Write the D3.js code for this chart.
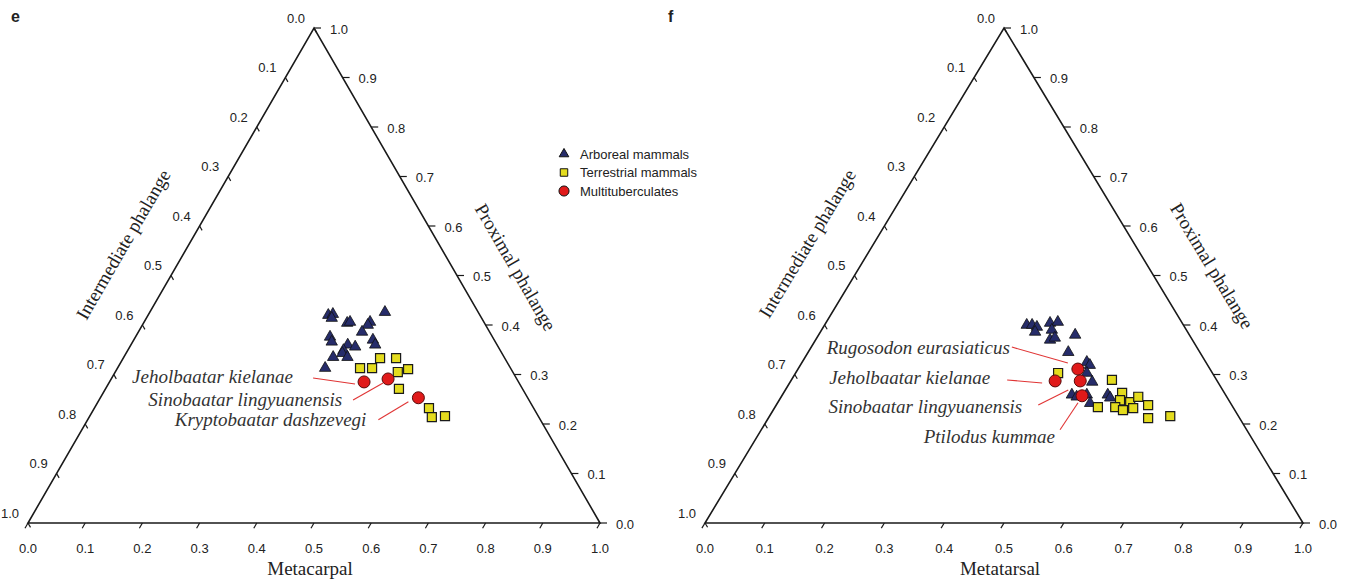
<!DOCTYPE html>
<html>
<head>
<meta charset="utf-8">
<script src="https://cdn.jsdelivr.net/npm/d3@7"></script>
<style>
  body { margin: 0; background: #fff; }
  svg { display: block; }
</style>
</head>
<body>
<div id="chart"></div>
<script>
// =======================
// TERNARY PLOTS
// Phalange proportions, hand (e) and foot (f)
// =======================

// tick values shared by the three axes
const tickValues = [0, 0.1, 0.2, 0.3, 0.4, 0.5, 0.6, 0.7, 0.8, 0.9, 1.0];
const tickLabels = ["0.0", "0.1", "0.2", "0.3", "0.4", "0.5", "0.6", "0.7", "0.8", "0.9", "1.0"];

// points are [metacarpal/metatarsal, proximal phalange, intermediate phalange]
const handArboreal = [
  [0.315, 0.420, 0.265], [0.322, 0.422, 0.256], [0.324, 0.414, 0.262], [0.356, 0.404, 0.240],
  [0.360, 0.406, 0.234], [0.395, 0.406, 0.199], [0.394, 0.400, 0.206], [0.411, 0.426, 0.163],
  [0.391, 0.386, 0.223], [0.418, 0.370, 0.212], [0.427, 0.360, 0.213], [0.340, 0.376, 0.284],
  [0.348, 0.366, 0.286], [0.379, 0.360, 0.261], [0.394, 0.356, 0.250], [0.377, 0.349, 0.274],
  [0.378, 0.343, 0.279], [0.366, 0.335, 0.299], [0.391, 0.335, 0.274], [0.363, 0.313, 0.324]
];
const handTerrestrial = [
  [0.424, 0.313, 0.263], [0.445, 0.313, 0.242], [0.449, 0.333, 0.218], [0.477, 0.333, 0.190],
  [0.494, 0.305, 0.201], [0.509, 0.311, 0.180], [0.513, 0.271, 0.216], [0.585, 0.232, 0.183],
  [0.599, 0.214, 0.187], [0.621, 0.216, 0.163]
];
const handMulti = [
  [0.445, 0.285, 0.270], [0.484, 0.291, 0.225], [0.556, 0.253, 0.191]
];
const handMultiNames = ["Jeholbaatar kielanae", "Sinobaatar lingyuanensis", "Kryptobaatar dashzevegi"];

const footArboreal = [
  [0.338, 0.400, 0.262], [0.347, 0.400, 0.253], [0.357, 0.396, 0.247], [0.359, 0.386, 0.255],
  [0.375, 0.404, 0.221], [0.387, 0.406, 0.207], [0.385, 0.390, 0.225], [0.392, 0.370, 0.238],
  [0.398, 0.374, 0.228], [0.429, 0.380, 0.191], [0.435, 0.345, 0.220], [0.476, 0.325, 0.199],
  [0.484, 0.319, 0.197], [0.487, 0.303, 0.210], [0.505, 0.285, 0.210], [0.484, 0.259, 0.257],
  [0.494, 0.255, 0.251], [0.509, 0.259, 0.232], [0.523, 0.242, 0.235], [0.544, 0.259, 0.197],
  [0.551, 0.253, 0.196]
];
const footTerrestrial = [
  [0.439, 0.303, 0.258], [0.536, 0.289, 0.175], [0.566, 0.263, 0.171], [0.570, 0.248, 0.182],
  [0.589, 0.244, 0.167], [0.597, 0.255, 0.148], [0.540, 0.234, 0.226], [0.569, 0.234, 0.197],
  [0.585, 0.228, 0.187], [0.600, 0.232, 0.168], [0.622, 0.238, 0.140], [0.635, 0.212, 0.153],
  [0.670, 0.216, 0.114]
];
const footMulti = [
  [0.468, 0.311, 0.221], [0.442, 0.287, 0.271], [0.484, 0.287, 0.229], [0.502, 0.257, 0.241]
];
const footMultiNames = ["Rugosodon eurasiaticus", "Jeholbaatar kielanae", "Sinobaatar lingyuanensis", "Ptilodus kummae"];

const legendLabels = ["Arboreal mammals", "Terrestrial mammals", "Multituberculates"];

// label offsets from each point: [labelEndX, labelY, lineStartX, lineStartY, lineEndX, lineEndY]
const handNotes = [[-71, -5, -51, -4, -9, 2], [-46, 21, -35, 21, -5, 4], [-52, 22, -40, 22, -10, 4]];
const footNotes = [[-68, -22, -66, -22, -10, -6], [-65, -3, -48, -1, -13, 2], [-58, 26, -42, 24, -12, 9], [-27, 41, -22, 34, -4, 7]];

const width = 1359, height = 581;
const sans = "'Liberation Sans', Arial, sans-serif";
const serif = "'Liberation Serif', 'Times New Roman', serif";

const colors = { arboreal: "#262c6a", terrestrial: "#e4dc1e", multi: "#e01a1a" };

const panels = [
  { letter: "e", letterX: 11, left: 28, base: 523, w: 572, h: 495, bottom: "Metacarpal",
    arboreal: handArboreal, terrestrial: handTerrestrial, multi: handMulti,
    names: handMultiNames, notes: handNotes },
  { letter: "f", letterX: 668, left: 705, base: 523, w: 598, h: 495, bottom: "Metatarsal",
    arboreal: footArboreal, terrestrial: footTerrestrial, multi: footMulti,
    names: footMultiNames, notes: footNotes }
];

const svg = d3.select("#chart")
  .append("svg")
    .attr("width", width)
    .attr("height", height);

svg.append("rect").attr("width", width).attr("height", height).attr("fill", "#fff");

const triSym = d3.symbol(d3.symbolTriangle, 56);
const sqSym = d3.symbol(d3.symbolSquare, 82);

panels.forEach(p => {
  const g = svg.append("g");

  // x scale works on (m + p/2), y scale on p
  const x = d3.scaleLinear().domain([0, 1]).range([p.left, p.left + p.w]);
  const y = d3.scaleLinear().domain([0, 1]).range([p.base, p.base - p.h]);
  const pos = d => [x(d[0] + d[1] / 2), y(d[1])];

  const BL = pos([0, 0]), BR = pos([1, 0]), AP = pos([0, 1]);

  // frame
  g.append("path")
    .attr("d", `M${BL}L${BR}L${AP}Z`)
    .attr("fill", "none")
    .attr("stroke", "#1a1a1a")
    .attr("stroke-width", 1.6)
    .attr("stroke-linejoin", "miter");

  const len = 6;
  const edgeL = Math.hypot(AP[0] - BL[0], AP[1] - BL[1]);
  const uL = [(BL[0] - AP[0]) / edgeL, (BL[1] - AP[1]) / edgeL]; // down-left
  const edgeR = Math.hypot(BR[0] - AP[0], BR[1] - AP[1]);
  const uR = [(BR[0] - AP[0]) / edgeR, (BR[1] - AP[1]) / edgeR]; // down-right

  const tick = (x1, y1, x2, y2) => g.append("line")
    .attr("x1", x1).attr("y1", y1).attr("x2", x2).attr("y2", y2)
    .attr("stroke", "#1a1a1a").attr("stroke-width", 1.2);
  const label = (tx, ty, txt, anchor) => g.append("text")
    .attr("x", tx).attr("y", ty)
    .attr("text-anchor", anchor)
    .attr("dominant-baseline", "central")
    .style("font-family", sans).style("font-size", "13px").style("fill", "#222")
    .text(txt);

  tickValues.forEach((v, i) => {
    // bottom axis: metacarpal / metatarsal
    const b = pos([v, 0]);
    tick(b[0], b[1], b[0] + uL[0] * len, b[1] + uL[1] * len);
    label(b[0], b[1] + 25, tickLabels[i], "middle");

    // right axis: proximal phalange
    const r = pos([1 - v, v]);
    tick(r[0], r[1], r[0] + len + 1, r[1]);
    label(r[0] + 16, r[1] + 1, tickLabels[i], "start");

    // left axis: intermediate phalange (0 at apex)
    const l = pos([0, 1 - v]);
    tick(l[0], l[1], l[0] + uR[0] * 5, l[1] + uR[1] * 5);
    label(l[0] - 18, l[1] - 10, tickLabels[i], "middle");
  });

  // axis titles
  g.append("text")
    .attr("x", (BL[0] + BR[0]) / 2 - 4)
    .attr("y", p.base + 52)
    .attr("text-anchor", "middle")
    .style("font-family", serif).style("font-size", "19px").style("fill", "#222")
    .text(p.bottom);

  const angL = Math.atan2(AP[1] - BL[1], AP[0] - BL[0]) * 180 / Math.PI;
  const midL = [(BL[0] + AP[0]) / 2, (BL[1] + AP[1]) / 2];
  const nl = [-uL[1], uL[0]]; // outward normal of the left edge (up-left)
  g.append("text")
    .attr("transform", `translate(${midL[0] + nl[0] * 57 - uL[0] * 3},${midL[1] + nl[1] * 57 - uL[1] * 3}) rotate(${angL})`)
    .attr("text-anchor", "middle")
    .attr("dominant-baseline", "central")
    .style("font-family", serif).style("font-size", "19px").style("fill", "#222")
    .text("Intermediate phalange");

  const angR = Math.atan2(BR[1] - AP[1], BR[0] - AP[0]) * 180 / Math.PI;
  const midR = [(BR[0] + AP[0]) / 2, (BR[1] + AP[1]) / 2];
  const nr = [-uR[1] * -1, -uR[0]]; // outward normal of the right edge (up-right)
  g.append("text")
    .attr("transform", `translate(${midR[0] + nr[0] * 55 + uR[0] * 22},${midR[1] + nr[1] * 55 + uR[1] * 22}) rotate(${angR})`)
    .attr("text-anchor", "middle")
    .attr("dominant-baseline", "central")
    .style("font-family", serif).style("font-size", "19px").style("fill", "#222")
    .text("Proximal phalange");

  // panel letter
  g.append("text")
    .attr("x", p.letterX)
    .attr("y", 22)
    .style("font-family", sans).style("font-size", "16px").style("font-weight", "bold")
    .style("fill", "#222")
    .text(p.letter);

  // points
  g.selectAll(".arb")
    .data(p.arboreal)
    .enter()
    .append("path")
      .attr("transform", d => `translate(${pos(d)})`)
      .attr("d", triSym)
      .attr("fill", colors.arboreal)
      .attr("stroke", "#111")
      .attr("stroke-width", 0.8);

  g.selectAll(".ter")
    .data(p.terrestrial)
    .enter()
    .append("path")
      .attr("transform", d => `translate(${pos(d)})`)
      .attr("d", sqSym)
      .attr("fill", colors.terrestrial)
      .attr("stroke", "#1a1a1a")
      .attr("stroke-width", 1.2);

  // leader lines and names
  p.multi.forEach((d, i) => {
    const c = pos(d), n = p.notes[i];
    g.append("line")
      .attr("x1", c[0] + n[2]).attr("y1", c[1] + n[3])
      .attr("x2", c[0] + n[4]).attr("y2", c[1] + n[5])
      .attr("stroke", "#e03535").attr("stroke-width", 1.1);
    g.append("text")
      .attr("x", c[0] + n[0]).attr("y", c[1] + n[1])
      .attr("text-anchor", "end")
      .attr("dominant-baseline", "central")
      .style("font-family", serif).style("font-size", "19px").style("font-style", "italic")
      .style("fill", "#333")
      .text(p.names[i]);
  });

  g.selectAll(".mul")
    .data(p.multi)
    .enter()
    .append("circle")
      .attr("cx", d => pos(d)[0])
      .attr("cy", d => pos(d)[1])
      .attr("r", 6)
      .attr("fill", colors.multi)
      .attr("stroke", "#5a0a0a")
      .attr("stroke-width", 1);
});

// legend
const legend = svg.append("g").attr("transform", "translate(564,154)");
const legendSyms = [
  d3.symbol(d3.symbolTriangle, 40)(),
  d3.symbol(d3.symbolSquare, 56)(),
  d3.symbol(d3.symbolCircle, 80)()
];
const legendFill = [colors.arboreal, colors.terrestrial, colors.multi];
legendLabels.forEach((t, i) => {
  const row = legend.append("g").attr("transform", `translate(0,${i * 18.5})`);
  row.append("path")
    .attr("d", legendSyms[i])
    .attr("fill", legendFill[i])
    .attr("stroke", "#111")
    .attr("stroke-width", 1);
  row.append("text")
    .attr("x", 16)
    .attr("y", 0)
    .attr("dominant-baseline", "central")
    .style("font-family", sans).style("font-size", "13px").style("fill", "#222")
    .text(t);
});
</script>
</body>
</html>
